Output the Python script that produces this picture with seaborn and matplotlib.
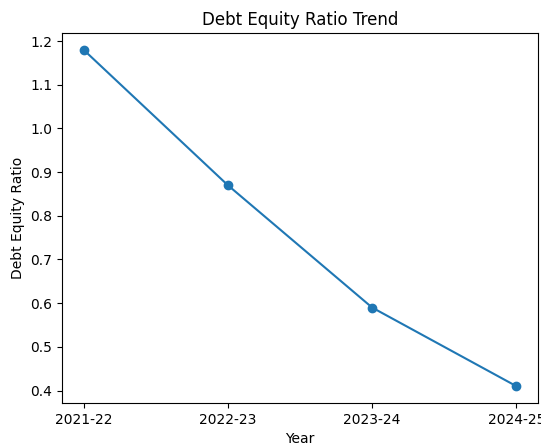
import matplotlib
matplotlib.use("Agg")
import matplotlib.pyplot as plt
import seaborn as sns
import pandas as pd

years = ["2021-22", "2022-23", "2023-24", "2024-25"]
de_ratio = [1.18, 0.87, 0.59, 0.41]

df = pd.DataFrame({"Year": years, "Debt Equity Ratio": de_ratio})

fig = plt.figure(figsize=(5.41, 4.46), dpi=100)
ax = fig.add_axes([62 / 541, 43 / 446, 476 / 541, 370 / 446])

sns.lineplot(data=df, x="Year", y="Debt Equity Ratio", marker="o", sort=False,
             color="#1f77b4", markersize=6, markeredgecolor="#1f77b4",
             markeredgewidth=1, linewidth=1.5, ax=ax)

ax.set_title("Debt Equity Ratio Trend", fontsize=12)
ax.set_xlabel("Year", fontsize=10)
ax.set_ylabel("Debt Equity Ratio", fontsize=10)
ax.tick_params(labelsize=10)

fig.savefig("out.png", dpi=100)
